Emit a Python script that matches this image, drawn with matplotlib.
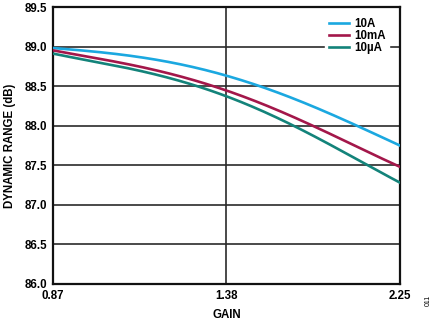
import numpy as np
import matplotlib.pyplot as plt

plt.rcParams['font.family'] = ['Liberation Sans', 'DejaVu Sans']
plt.rcParams['font.weight'] = 'bold'

# gain axis is drawn on index positions (0.87, 1.38, 2.25 evenly spaced)
gain_ticks = ['0.87', '1.38', '2.25']
pos = [0, 0.25, 0.5, 0.75, 1.0, 1.25, 1.5, 1.75, 2.0]
dr_10a = [88.98, 88.94, 88.86, 88.77, 88.63, 88.46, 88.24, 88.00, 87.75]
dr_10ma = [88.95, 88.86, 88.74, 88.61, 88.45, 88.24, 87.99, 87.74, 87.48]
dr_10ua = [88.91, 88.81, 88.69, 88.55, 88.38, 88.14, 87.87, 87.58, 87.28]


def smooth(x, y, n=200):
    xs = np.linspace(x[0], x[-1], n)
    c = np.polyfit(x, y, 4)
    return xs, np.polyval(c, xs)


fig = plt.figure(figsize=(4.35, 3.23), dpi=100)
ax = fig.add_axes([53 / 435, 1 - 284 / 323, 347 / 435, 277 / 323])

for y, col, lab in [(dr_10a, '#1ba8e0', '10A'),
                    (dr_10ma, '#a3174a', '10mA'),
                    (dr_10ua, '#13837a', '10µA')]:
    xs, ys = smooth(pos, y)
    ax.plot(xs, ys, color=col, lw=1.9, label=lab, zorder=3)

ax.set_xlim(0, 2)
ax.set_ylim(86.0, 89.5)
ax.set_xticks([0, 1, 2])
ax.set_xticklabels(gain_ticks)
ax.set_yticks(np.arange(86.0, 89.51, 0.5))
ax.set_yticklabels([f'{v:.1f}' for v in np.arange(86.0, 89.51, 0.5)])
ax.tick_params(length=0, labelsize=8.3, pad=4)
ax.grid(True, color='#2a2a2a', lw=1.2)
for s in ax.spines.values():
    s.set_linewidth(1.6)
    s.set_color('#111111')

ax.set_xlabel('GAIN', fontsize=8.3, fontweight='bold', labelpad=5)
ax.set_ylabel('DYNAMIC RANGE (dB)', fontsize=8.3, fontweight='bold', labelpad=6)

leg = ax.legend(loc='upper right', bbox_to_anchor=(0.985, 0.995), frameon=True,
                fontsize=8.3, handlelength=1.8, handletextpad=0.4,
                labelspacing=0.0, borderpad=0.3, fancybox=False)
leg.get_frame().set_edgecolor('white')
leg.get_frame().set_alpha(1)

fig.text(428 / 435, 1 - 300 / 323, '011', rotation=90, fontsize=5,
         fontweight='normal', ha='center', va='center')

fig.savefig('out.png', dpi=100)
